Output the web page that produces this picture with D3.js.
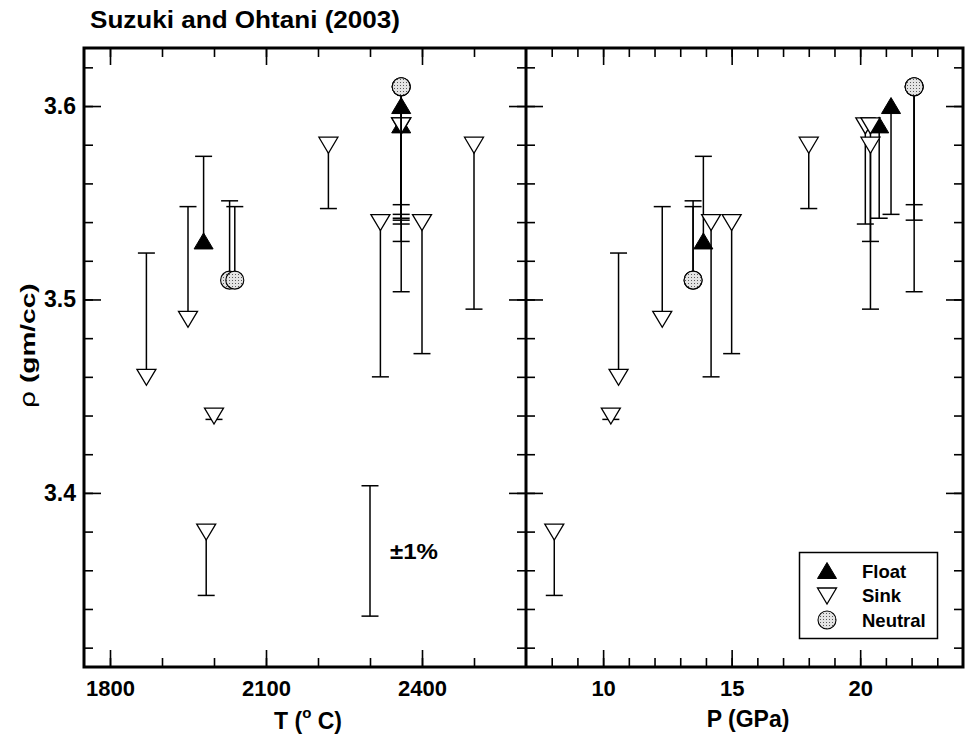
<!DOCTYPE html>
<html>
<head>
<meta charset="utf-8">
<script src="https://cdn.jsdelivr.net/npm/d3@7"></script>
<style>
  html, body { margin: 0; padding: 0; background: #fff; }
  svg { display: block; font-family: "Liberation Sans", Arial, Helvetica, sans-serif; }
</style>
</head>
<body>
<svg id="chart" width="967" height="734"></svg>
<script>
// Density of floating / sinking / neutral markers (Suzuki and Ohtani, 2003)
// against run temperature (left panel) and pressure (right panel).
const kinds     = ["sink","sink","float","neutral","neutral","sink","sink","sink","sink","sink","sink",
                   "sink","sink","float","float","neutral","neutral","neutral"];
const tempC     = [1870, 1950, 1980, 2030, 2040, 2220, 2320, 2400, 2500, 2000, 1985,
                   2360, 2360, 2360, 2360, 2360, 2360, 2360];
const pressGPa  = [10.6, 12.3, 13.9, 13.5, 13.5, 18.0, 14.2, 15.0, 20.4, 10.3, 8.1,
                   20.2, 20.4, 20.74, 21.2, 22.1, 22.1, 22.1];
const density   = [3.46, 3.49, 3.53, 3.51, 3.51, 3.58, 3.54, 3.54, 3.58, 3.44, 3.38,
                   3.59, 3.59, 3.59, 3.60, 3.61, 3.61, 3.61];
// far end of each one-sided uncertainty bar
const barEnd    = [3.524, 3.548, 3.574, 3.551, 3.548, 3.547, 3.460, 3.472, 3.495, 3.438, 3.347,
                   3.539, 3.530, 3.542, 3.544, 3.549, 3.541, 3.504];

// reference ±1% bar
const refBarT = 2300, refBarRho = 3.37, refBarFrac = 0.01;

const tempMajor = [1800, 2100, 2400];
const tempMinor = [1800, 1900, 2000, 2100, 2200, 2300, 2400, 2500];
const pressMajor = [10, 15, 20];
const pressMinor = d3.range(8, 24);
const rhoMajor = [3.4, 3.5, 3.6];
const rhoMinor = [3.32, 3.34, 3.36, 3.38, 3.40, 3.42, 3.44, 3.46, 3.48, 3.50, 3.52, 3.54, 3.56, 3.58, 3.60, 3.62];

const legendItems = [["float", "Float"], ["sink", "Sink"], ["neutral", "Neutral"]];
const drawOrder = ["float", "sink", "neutral"];

const svg = d3.select("#chart");
const plotTop = 48, plotBottom = 667;
const xL0 = 84, xMid = 526, xR1 = 963;

const y = d3.scaleLinear().domain([3.31, 3.63]).range([plotBottom, plotTop]);
const xT = d3.scaleLinear().domain([1750, 2600]).range([xL0, xMid]);
const xP = d3.scaleLinear().domain([7, 24]).range([xMid, xR1]);

// stipple fill for neutral markers
const defs = svg.append("defs");
const pat = defs.append("pattern").attr("id", "stipple")
  .attr("width", 3).attr("height", 3).attr("patternUnits", "userSpaceOnUse");
pat.append("rect").attr("width", 3).attr("height", 3).attr("fill", "#e4e4e4");
pat.append("rect").attr("x", 1).attr("y", 1).attr("width", 1).attr("height", 1).attr("fill", "#5a5a5a");

const MAJ = 17, MIN = 9;

function tickAxes(x, x0, x1, major, minor, labels) {
  const g = svg.append("g");
  const style = sel => {
    sel.select(".domain").remove();
    sel.selectAll("line").attr("stroke", "#000").attr("stroke-width", 1.6);
  };
  // bottom
  g.append("g").attr("transform", `translate(0,${plotBottom})`)
    .call(d3.axisBottom(x).tickValues(minor).tickSize(-MIN).tickFormat("")).call(style);
  const b = g.append("g").attr("transform", `translate(0,${plotBottom})`)
    .call(d3.axisBottom(x).tickValues(major).tickSize(-MAJ).tickPadding(13)
      .tickFormat(labels ? d3.format("d") : "")).call(style);
  b.selectAll("text").attr("font-size", 22).attr("font-weight", "bold").attr("fill", "#000")
    .attr("font-family", "Liberation Sans, Arial, sans-serif");
  // top
  g.append("g").attr("transform", `translate(0,${plotTop})`)
    .call(d3.axisTop(x).tickValues(minor).tickSize(-MIN).tickFormat("")).call(style);
  g.append("g").attr("transform", `translate(0,${plotTop})`)
    .call(d3.axisTop(x).tickValues(major).tickSize(-MAJ).tickFormat("")).call(style);
  // left side
  g.append("g").attr("transform", `translate(${x0},0)`)
    .call(d3.axisLeft(y).tickValues(rhoMinor).tickSize(-MIN).tickFormat("")).call(style);
  g.append("g").attr("transform", `translate(${x0},0)`)
    .call(d3.axisLeft(y).tickValues(rhoMajor).tickSize(-MAJ).tickFormat("")).call(style);
  // right side
  g.append("g").attr("transform", `translate(${x1},0)`)
    .call(d3.axisRight(y).tickValues(rhoMinor).tickSize(-MIN).tickFormat("")).call(style);
  g.append("g").attr("transform", `translate(${x1},0)`)
    .call(d3.axisRight(y).tickValues(rhoMajor).tickSize(-MAJ).tickFormat("")).call(style);
}

tickAxes(xT, xL0, xMid, tempMajor, tempMinor, true);
tickAxes(xP, xMid, xR1, pressMajor, pressMinor, true);

// density labels on the left panel
const yl = svg.append("g").attr("transform", `translate(${xL0},0)`)
  .call(d3.axisLeft(y).tickValues(rhoMajor).tickSize(0).tickPadding(8).tickFormat(d3.format(".1f")));
yl.select(".domain").remove();
yl.selectAll("text").attr("font-size", 23).attr("font-weight", "bold").attr("fill", "#000")
  .attr("font-family", "Liberation Sans, Arial, sans-serif");

// marker shapes
function marker(sel, kind, cx, cy) {
  if (kind === "float") {
    sel.append("path").attr("d", `M${cx},${cy - 8.5}L${cx + 9.5},${cy + 7.5}L${cx - 9.5},${cy + 7.5}Z`)
      .attr("fill", "#000").attr("stroke", "#000").attr("stroke-width", 1);
  } else if (kind === "sink") {
    sel.append("path").attr("d", `M${cx - 9.5},${cy - 7.5}L${cx + 9.5},${cy - 7.5}L${cx},${cy + 8.5}Z`)
      .attr("fill", "#fff").attr("stroke", "#000").attr("stroke-width", 1.3);
  } else {
    sel.append("circle").attr("cx", cx).attr("cy", cy).attr("r", 9)
      .attr("fill", "url(#stipple)").attr("stroke", "#000").attr("stroke-width", 1.1);
  }
}

function errorBar(sel, cx, y0, y1) {
  sel.append("line").attr("x1", cx).attr("x2", cx).attr("y1", y0).attr("y2", y1)
    .attr("stroke", "#000").attr("stroke-width", 1.5);
  sel.append("line").attr("x1", cx - 8.5).attr("x2", cx + 8.5).attr("y1", y1).attr("y2", y1)
    .attr("stroke", "#000").attr("stroke-width", 1.5);
}

function drawPanel(xScale, xValues) {
  const g = svg.append("g");
  drawOrder.forEach(k => {
    const idx = d3.range(kinds.length).filter(i => kinds[i] === k);
    idx.forEach(i => errorBar(g, xScale(xValues[i]), y(density[i]), y(barEnd[i])));
    idx.forEach(i => marker(g, k, xScale(xValues[i]), y(density[i])));
  });
}

drawPanel(xT, tempC);
drawPanel(xP, pressGPa);

// ±1% reference bar
const rb = svg.append("g");
const rbx = xT(refBarT);
rb.append("line").attr("x1", rbx).attr("x2", rbx)
  .attr("y1", y(refBarRho * (1 + refBarFrac))).attr("y2", y(refBarRho * (1 - refBarFrac)))
  .attr("stroke", "#000").attr("stroke-width", 1.5);
[1 + refBarFrac, 1 - refBarFrac].forEach(f => {
  rb.append("line").attr("x1", rbx - 8.5).attr("x2", rbx + 8.5)
    .attr("y1", y(refBarRho * f)).attr("y2", y(refBarRho * f))
    .attr("stroke", "#000").attr("stroke-width", 1.5);
});
rb.append("text").attr("x", rbx + 20).attr("y", y(refBarRho) + 8)
  .attr("font-size", 22).attr("font-weight", "bold")
  .attr("textLength", 48).attr("lengthAdjust", "spacingAndGlyphs").text("±1%");

// panel frames
svg.append("rect").attr("x", xL0).attr("y", plotTop).attr("width", xR1 - xL0).attr("height", plotBottom - plotTop)
  .attr("fill", "none").attr("stroke", "#000").attr("stroke-width", 3);
svg.append("line").attr("x1", xMid).attr("x2", xMid).attr("y1", plotTop).attr("y2", plotBottom)
  .attr("stroke", "#000").attr("stroke-width", 3);

// legend
const lg = svg.append("g");
lg.append("rect").attr("x", 799.5).attr("y", 552.5).attr("width", 138).attr("height", 86)
  .attr("fill", "#fff").attr("stroke", "#000").attr("stroke-width", 1.5);
legendItems.forEach(([k, label], i) => {
  const cy = 571 + i * 24.5;
  marker(lg, k, 827, cy);
  lg.append("text").attr("x", 862).attr("y", cy + 6.5)
    .attr("font-size", 18.5).attr("font-weight", "bold").text(label);
});

// titles
svg.append("text").attr("x", 90).attr("y", 28).attr("font-size", 23).attr("font-weight", "bold")
  .attr("textLength", 310).attr("lengthAdjust", "spacingAndGlyphs")
  .text("Suzuki and Ohtani (2003)");

const tT = svg.append("text").attr("x", 308).attr("y", 729).attr("text-anchor", "middle")
  .attr("font-size", 23).attr("font-weight", "bold");
tT.append("tspan").text("T (");
tT.append("tspan").attr("font-size", 15).attr("dy", -11).text("o");
tT.append("tspan").attr("dy", 11).text(" C)");

svg.append("text").attr("x", 748).attr("y", 727).attr("text-anchor", "middle")
  .attr("font-size", 23).attr("font-weight", "bold").text("P (GPa)");

const yt = svg.append("text").attr("transform", "translate(35,346) rotate(-90)")
  .attr("text-anchor", "middle").attr("font-size", 21).attr("font-weight", "bold")
  .attr("textLength", 125).attr("lengthAdjust", "spacingAndGlyphs");
yt.append("tspan").attr("font-weight", "normal").attr("font-family", "DejaVu Sans, sans-serif").text("ρ");
yt.append("tspan").text(" (gm/cc)");
</script>
</body>
</html>
